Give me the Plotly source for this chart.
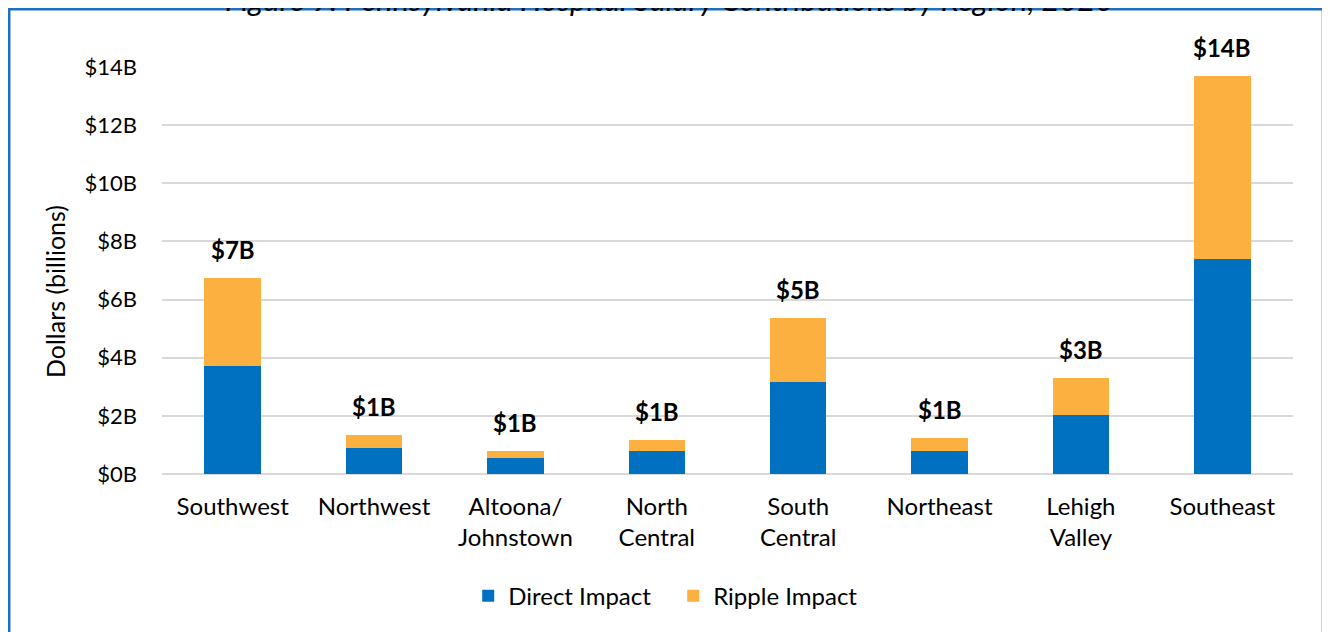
import plotly.graph_objects as go

regions = ["Southwest", "Northwest", "Altoona/<br>Johnstown", "North<br>Central",
           "South<br>Central", "Northeast", "Lehigh<br>Valley", "Southeast"]
direct = [3.72, 0.89, 0.55, 0.79, 3.16, 0.79, 2.03, 7.40]
ripple = [3.02, 0.45, 0.24, 0.38, 2.21, 0.45, 1.27, 6.29]
totals = [d + r for d, r in zip(direct, ripple)]
labels = [f"${round(t):.0f}B" for t in totals]
yticks = [0, 2, 4, 6, 8, 10, 12, 14]
ytick_text = [f"${v}B" for v in yticks]

FONT = "Lato, 'Open Sans', sans-serif"

fig = go.Figure()
fig.add_trace(go.Bar(x=regions, y=direct, name="Direct Impact",
                     marker=dict(color="#0070C0", line=dict(width=0))))
fig.add_trace(go.Bar(x=regions, y=ripple, name="Ripple Impact",
                     marker=dict(color="#FBB040", line=dict(width=0))))

for x, t, lab in zip(regions, totals, labels):
    fig.add_annotation(x=x, y=t, text=f"<b>{lab}</b>", showarrow=False,
                       yanchor="bottom", yshift=12,
                       font=dict(size=24, color="#000000", family=FONT))

fig.add_annotation(xref="paper", yref="paper", x=0.449, y=1.168,
                   text="<i>Figure 9: Pennsylvania Hospital Salary Contributions by Region, 2020</i>",
                   showarrow=False, xanchor="center", yanchor="middle",
                   font=dict(size=31, color="#000000", family=FONT))

# y-axis title (placed lower than centre, as in the reference)
fig.add_annotation(xref="paper", yref="paper", x=-0.0946, y=0.447,
                   text="Dollars (billions)", textangle=-90, showarrow=False,
                   xanchor="center", yanchor="middle",
                   font=dict(size=25, color="#000000", family=FONT))

# border frame
fig.add_shape(type="rect", xref="paper", yref="paper",
              x0=-0.1351, x1=1.0265, y0=-0.45, y1=1.1418,
              line=dict(color="#1F6FBF", width=2.5), fillcolor="rgba(0,0,0,0)", layer="above")

fig.update_layout(
    width=1330, height=632,
    margin=dict(l=154, r=45, t=59, b=166),
    barmode="stack", bargap=0.6,
    plot_bgcolor="white", paper_bgcolor="white",
    font=dict(family=FONT, color="#000000"),
    showlegend=True,
    legend=dict(orientation="h", x=0.452, xanchor="center", y=-0.3, yanchor="middle",
                font=dict(size=24, family=FONT), traceorder="normal",
                entrywidth=160, entrywidthmode="pixels"),
)
fig.update_yaxes(range=[0, 14], tickvals=yticks, ticktext=ytick_text,
                 showgrid=True, gridcolor="#D9D9D9", gridwidth=2,
                 zeroline=True, zerolinecolor="#D9D9D9", zerolinewidth=2,
                 showline=False, ticks="", ticklabelstandoff=24,
                 tickfont=dict(size=22, family=FONT))
fig.update_xaxes(showgrid=False, showline=False, ticks="", ticklabelstandoff=16,
                 tickfont=dict(size=24, family=FONT))

fig.write_html("out.html")
